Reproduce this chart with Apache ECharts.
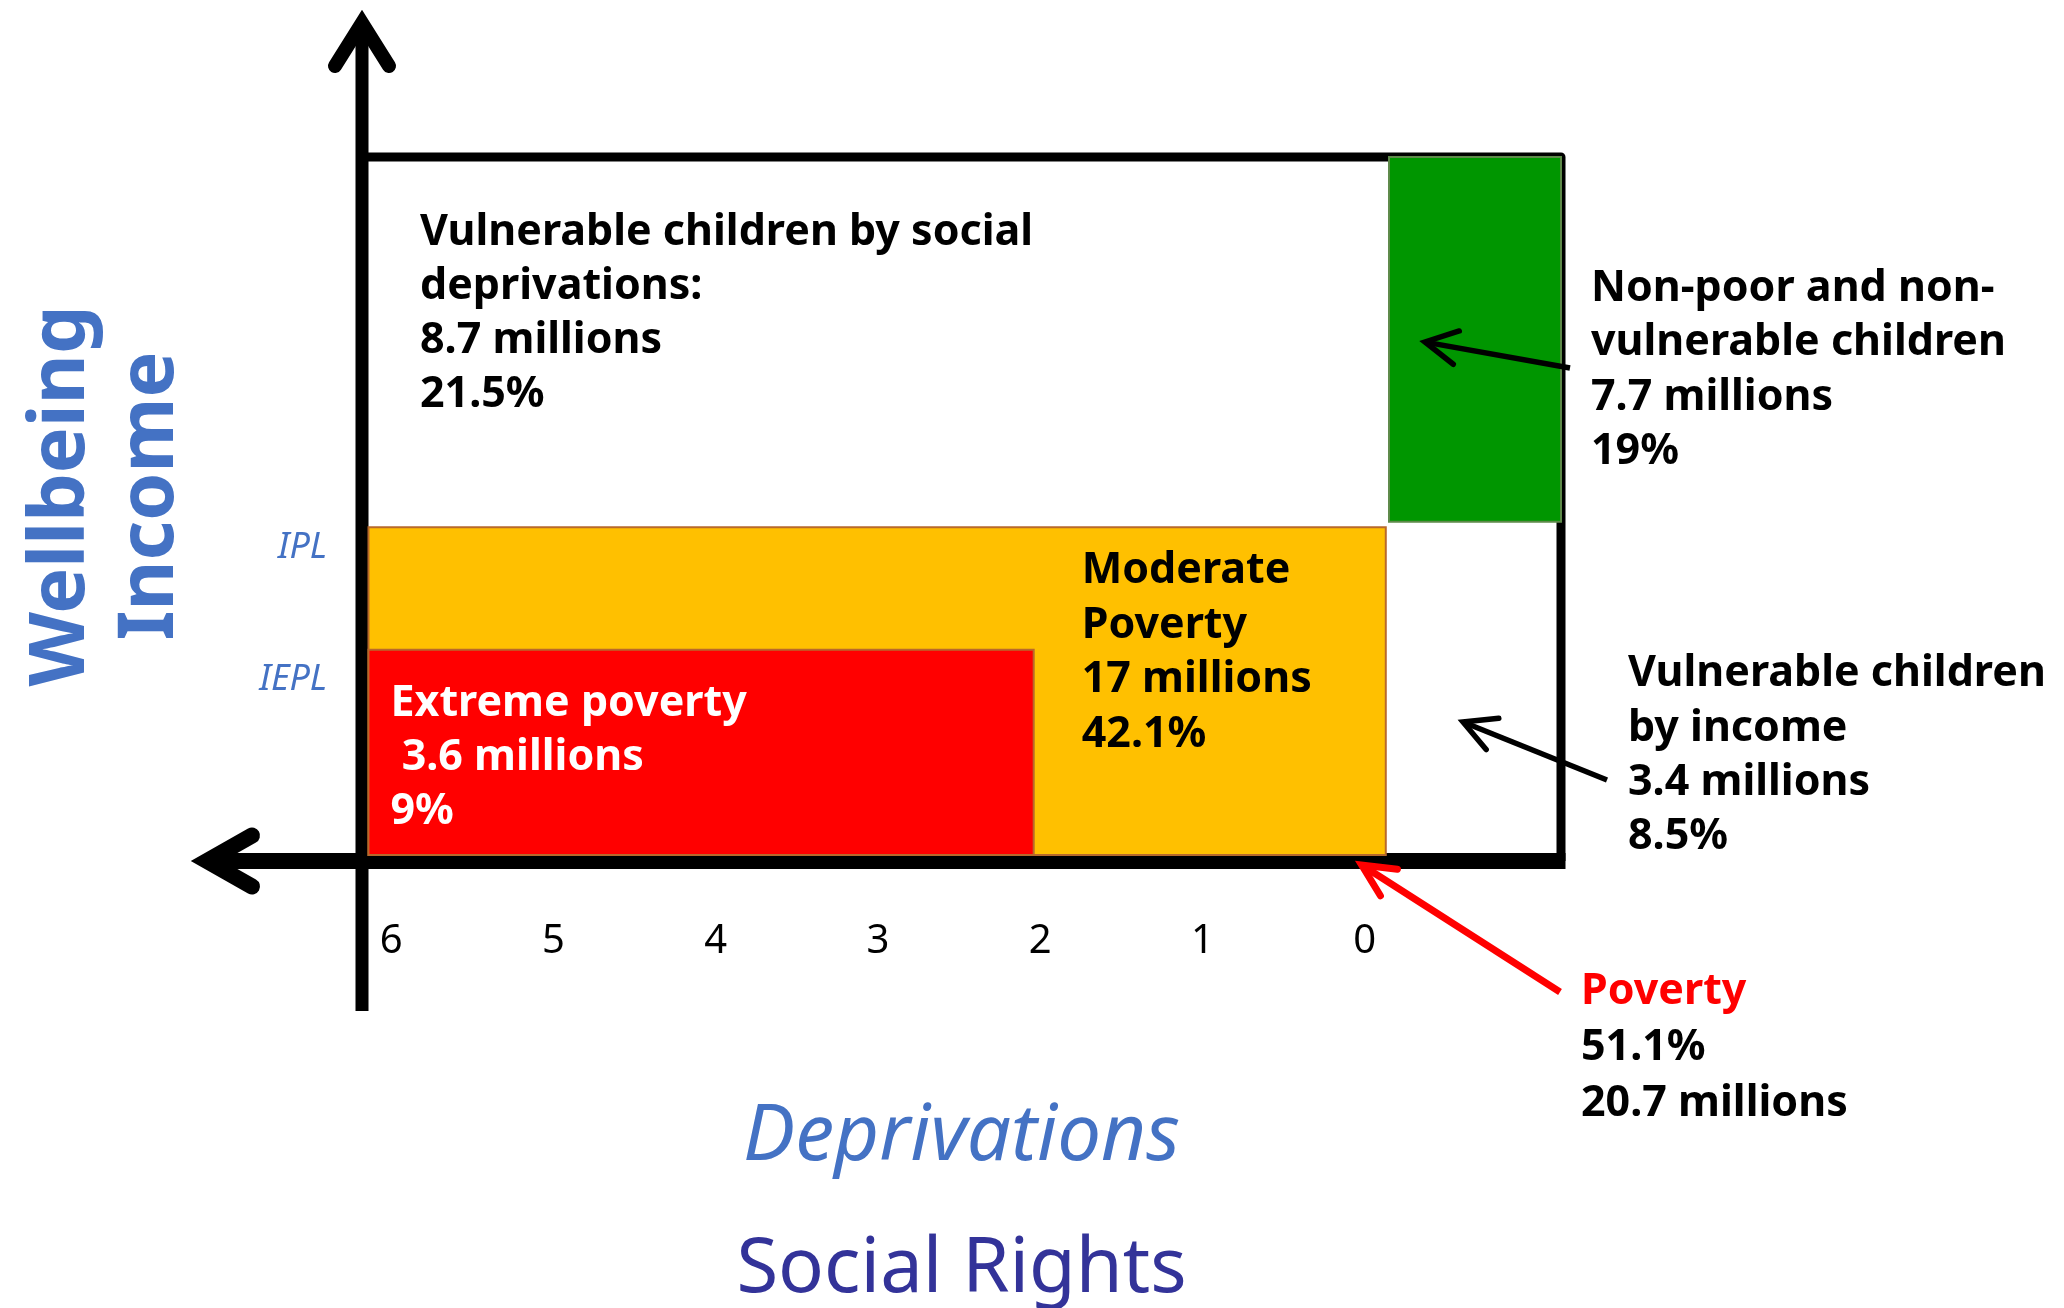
<!DOCTYPE html>
<html>
<head>
<meta charset="utf-8">
<title>Child poverty by income and social deprivations</title>
<script src="https://cdn.jsdelivr.net/npm/echarts@6/dist/echarts.min.js"></script>
<style>
  html, body { margin: 0; padding: 0; background: #fff; }
  #chart { width: 2064px; height: 1308px; }
</style>
</head>
<body>
<div id="chart"></div>
<script>
// Number of social deprivations (horizontal axis, counted right to left)
const deprivationTicks = [0, 1, 2, 3, 4, 5, 6];

// Income poverty lines on the wellbeing axis
const incomeLineNames = ['IEPL', 'IPL'];
const incomeLineValues = [30, 47.4];

// Shaded regions: deprivation range and income range of each group
const regionNames = ['Moderate poverty', 'Extreme poverty', 'Non-poor and non-vulnerable'];
const regionDeprivFrom = [-0.13, 2.04, -1.21];
const regionDeprivTo = [6.14, 6.14, -0.15];
const regionIncomeFrom = [0.85, 0.85, 48.2];
const regionIncomeTo = [47.4, 30, 100];

// Group sizes
const groupTitles = [
  'Vulnerable children by social\ndeprivations:',
  'Non-poor and non-\nvulnerable children',
  'Moderate\nPoverty',
  'Extreme poverty\n',
  'Vulnerable children\nby income',
  'Poverty'
];
const groupMillions = ['8.7', '7.7', '17', '3.6', '3.4', '20.7'];
const groupShares = ['21.5%', '19%', '42.1%', '9%', '8.5%', '51.1%'];

const FONT = '"Noto Sans", "Open Sans", sans-serif';
const BLUE = '#4472C4';
const NOTE_SIZE = 43;
const regionFill = ['#FFC000', '#FF0000', '#009600'];
const regionStroke = ['#B8692B', '#B8692B', '#5E8A4A'];

const chart = echarts.init(document.getElementById('chart'), null, { renderer: 'canvas' });

function block(i) {
  return groupTitles[i] + '\n' + groupMillions[i] + ' millions\n' + groupShares[i];
}

function arrow(tail, tip, color, width, wingLen, wingDeg) {
  const ang = Math.atan2(tail[1] - tip[1], tail[0] - tip[0]);
  const a = wingDeg * Math.PI / 180;
  const w1 = [tip[0] + wingLen * Math.cos(ang + a), tip[1] + wingLen * Math.sin(ang + a)];
  const w2 = [tip[0] + wingLen * Math.cos(ang - a), tip[1] + wingLen * Math.sin(ang - a)];
  const shaftEnd = [tip[0] + width * 0.6 * Math.cos(ang), tip[1] + width * 0.6 * Math.sin(ang)];
  return [
    { type: 'line', shape: { x1: tail[0], y1: tail[1], x2: shaftEnd[0], y2: shaftEnd[1] },
      style: { stroke: color, lineWidth: width, lineCap: 'butt' } },
    { type: 'polyline', shape: { points: [w1, tip, w2] },
      style: { stroke: color, lineWidth: width, lineCap: 'round', lineJoin: 'miter', fill: null } }
  ];
}

// Axes with arrow heads and the outer frame of the map
function renderFrame(params, api) {
  const cs = params.coordSys;
  const L = cs.x, T = cs.y, R = cs.x + cs.width, B = cs.y + cs.height;
  const k = '#000';
  return {
    type: 'group',
    children: [
      { type: 'polyline', shape: { points: [[L, T], [R, T], [R, B]] },
        style: { stroke: k, lineWidth: 9, lineJoin: 'round', fill: null } },
      // vertical (wellbeing) axis
      { type: 'line', shape: { x1: L, y1: B + 150, x2: L, y2: T - 126 },
        style: { stroke: k, lineWidth: 13, lineCap: 'butt' } },
      { type: 'polyline', shape: { points: [[L - 27, T - 91], [L, T - 134], [L + 27, T - 91]] },
        style: { stroke: k, lineWidth: 14, lineCap: 'round', lineJoin: 'miter', fill: null } },
      // horizontal (deprivation) axis
      { type: 'line', shape: { x1: L - 147, y1: B, x2: R + 4.5, y2: B },
        style: { stroke: k, lineWidth: 16, lineCap: 'butt' } },
      { type: 'polyline', shape: { points: [[L - 110, B - 25.5], [L - 155, B], [L - 110, B + 25.5]] },
        style: { stroke: k, lineWidth: 16, lineCap: 'round', lineJoin: 'miter', fill: null } }
    ]
  };
}

function regionSeries(i) {
  return {
    name: regionNames[i],
    type: 'custom',
    coordinateSystem: 'cartesian2d',
    z: 3,
    clip: false,
    data: [[regionDeprivFrom[i], regionDeprivTo[i], regionIncomeFrom[i], regionIncomeTo[i]]],
    renderItem: function (params, api) {
      const p0 = api.coord([api.value(0), api.value(2)]);
      const p1 = api.coord([api.value(1), api.value(3)]);
      return {
        type: 'rect',
        shape: {
          x: Math.min(p0[0], p1[0]), y: Math.min(p0[1], p1[1]),
          width: Math.abs(p1[0] - p0[0]), height: Math.abs(p1[1] - p0[1])
        },
        style: { fill: regionFill[i], stroke: regionStroke[i], lineWidth: 2 }
      };
    }
  };
}

function txt(x, y, text, fill, lh) {
  return {
    type: 'text', x: x, y: y,
    style: {
      text: text, fill: fill, font: 'bold ' + NOTE_SIZE + 'px ' + FONT,
      lineHeight: lh, textAlign: 'left', textVerticalAlign: 'top'
    }
  };
}

// Group labels and callout arrows
function renderNotes(params, api) {
  const cs = params.coordSys;
  const L = cs.x, T = cs.y, R = cs.x + cs.width, B = cs.y + cs.height;
  const extremeTopLeft = api.coord([regionDeprivTo[1], regionIncomeTo[1]]);
  const extremeTopRight = api.coord([regionDeprivFrom[1], regionIncomeTo[1]]);
  const moderateTop = api.coord([regionDeprivFrom[1], regionIncomeTo[0]]);
  const zero = api.coord([0, 0]);
  const children = [
    txt(L + 58, T + 49, block(0), '#000', 54),
    txt(R + 30, T + 104, block(1), '#000', 54.5),
    txt(extremeTopRight[0] + 48, moderateTop[1] + 16, block(2), '#000', 54.7),
    txt(extremeTopLeft[0] + 22, extremeTopLeft[1] + 27,
        groupTitles[3].trim() + '\n ' + groupMillions[3] + ' millions\n' + groupShares[3], '#fff', 54),
    txt(R + 67, B - 214, block(4), '#000', 54.3),
    {
      type: 'text', x: R + 20, y: B + 103,
      style: {
        text: '{r|' + groupTitles[5] + '}\n{b|' + groupShares[5] + '}\n{b|' + groupMillions[5] + ' millions}',
        textAlign: 'left', textVerticalAlign: 'top',
        rich: {
          r: { fontSize: NOTE_SIZE, fontWeight: 'bold', fontFamily: FONT, fill: '#FF0000', lineHeight: 56 },
          b: { fontSize: NOTE_SIZE, fontWeight: 'bold', fontFamily: FONT, fill: '#000000', lineHeight: 56 }
        }
      }
    }
  ];
  return {
    type: 'group',
    children: children
      .concat(arrow([R + 9, T + 211], [R - 136, T + 185], '#000', 5.5, 36, 28))
      .concat(arrow([R + 46, B - 81], [R - 98, B - 139], '#000', 5.5, 36, 28))
      .concat(arrow([R - 1, B + 131], [zero[0] - 3, B + 4], '#FF0000', 7, 36, 26))
  };
}

const option = {
  animation: false,
  backgroundColor: '#ffffff',
  grid: { left: 362, right: 503, top: 157, bottom: 447, containLabel: false, outerBoundsMode: 'none' },
  xAxis: {
    type: 'value',
    inverse: true,
    min: -1.21,
    max: 6.18,
    axisLine: { show: false },
    axisTick: { show: false },
    splitLine: { show: false },
    axisLabel: {
      customValues: deprivationTicks,
      margin: 61,
      fontSize: 40,
      fontFamily: FONT,
      color: '#000'
    },
    name: '{d|Deprivations}\n{s|Social Rights}',
    nameLocation: 'middle',
    nameGap: 211,
    nameTextStyle: {
      rich: {
        d: { fontSize: 78, fontStyle: 'italic', fontFamily: FONT, color: BLUE, lineHeight: 132 },
        s: { fontSize: 76, fontFamily: FONT, color: '#333399', lineHeight: 132 }
      }
    }
  },
  yAxis: {
    type: 'value',
    min: 0,
    max: 100,
    axisLine: { show: false },
    axisTick: { show: false },
    splitLine: { show: false },
    axisLabel: {
      customValues: incomeLineValues,
      formatter: function (v) {
        let best = 0;
        incomeLineValues.forEach(function (c, i) {
          if (Math.abs(c - v) < Math.abs(incomeLineValues[best] - v)) best = i;
        });
        return '{l' + best + '|' + incomeLineNames[best] + '}';
      },
      margin: 35,
      verticalAlign: 'top',
      rich: {
        l0: { fontSize: 36, fontStyle: 'italic', fontFamily: FONT, color: BLUE, padding: [12, 0, 0, 0] },
        l1: { fontSize: 36, fontStyle: 'italic', fontFamily: FONT, color: BLUE, padding: [2, 0, 0, 0] }
      }
    },
    name: '{w|Wellbeing}\n{w|Income}',
    nameLocation: 'middle',
    nameRotate: 90,
    nameGap: 166,
    nameTextStyle: {
      padding: [0, 0, 0, 26],
      rich: {
        w: { fontSize: 77, fontWeight: 'bold', fontFamily: FONT, color: BLUE, lineHeight: 89 }
      }
    }
  },
  series: [
    {
      name: 'frame',
      type: 'custom',
      coordinateSystem: 'cartesian2d',
      z: 2,
      clip: false,
      silent: true,
      data: [[0, 0]],
      renderItem: renderFrame
    },
    regionSeries(0),
    regionSeries(1),
    regionSeries(2),
    {
      name: 'notes',
      type: 'custom',
      coordinateSystem: 'cartesian2d',
      z: 5,
      clip: false,
      silent: true,
      data: [[0, 0]],
      renderItem: renderNotes
    }
  ]
};

chart.setOption(option);
</script>
</body>
</html>
